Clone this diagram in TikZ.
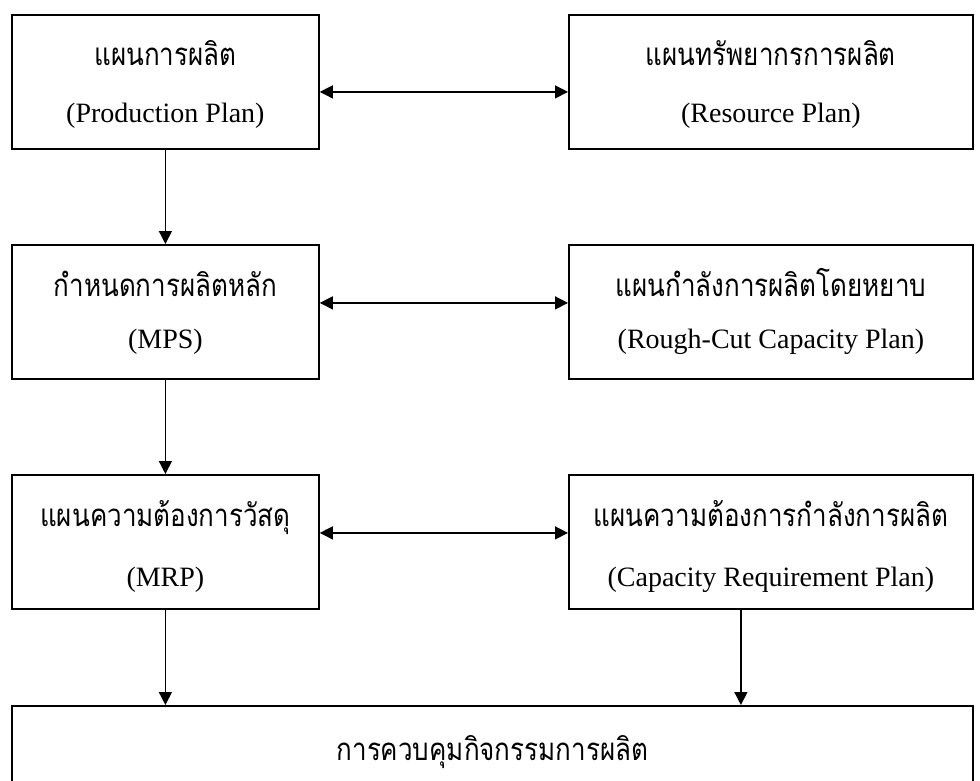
\documentclass[tikz,border=0pt]{standalone}
\usepackage{fontspec}
\setmainfont{Liberation Serif}
\newfontfamily\thaifont[Script=Thai]{Loma}
\usetikzlibrary{arrows.meta}
\newcommand{\thtext}[1]{\scalebox{1}[1.2]{#1}}
\begin{document}
\begin{tikzpicture}[x=1pt,y=-1pt,
  box/.style={draw, line width=1.8pt, minimum width=#1, minimum height=134pt, inner sep=0pt, anchor=north west},
  th/.style={font=\thaifont\fontsize{26}{30}\selectfont, inner sep=0pt, anchor=base},
  en/.style={font=\fontsize{28}{32}\selectfont, inner sep=0pt, anchor=base},
  conn/.style={line width=1.4pt, -{Triangle[length=13pt,width=13pt]}},
  dconn/.style={line width=1.4pt, {Triangle[length=13pt,width=13pt]}-{Triangle[length=13pt,width=13pt]}}
]
\useasboundingbox (0,0) rectangle (980,780);
\clip (0,0) rectangle (980,780);
\fill[white] (0,0) rectangle (980,780);

% row 1
\node[box=307pt] (pp) at (11,14) {};
\node[box=404pt] (rp) at (568,14) {};
\node[th] (ppth) at (pp.north |- 0,65) {\thtext{แผนการผลิต}};
\node[en] (ppen) at (pp.north |- 0,122) {(Production Plan)};
\node[th] (rpth) at (rp.north |- 0,65) {\thtext{แผนทรัพยากรการผลิต}};
\node[en] (rpen) at (rp.north |- 0,122) {(Resource Plan)};

% row 2
\node[box=307pt] (mps) at (11,244) {};
\node[box=404pt] (rccp) at (568,244) {};
\node[th] (mpsth) at (mps.north |- 0,296) {\thtext{กำหนดการผลิตหลัก}};
\node[en] (mpsen) at (mps.north |- 0,348) {(MPS)};
\node[th] (rccpth) at (rccp.north |- 0,296) {\thtext{แผนกำลังการผลิตโดยหยาบ}};
\node[en] (rccpen) at (rccp.north |- 0,348) {(Rough-Cut Capacity Plan)};

% row 3
\node[box=307pt] (mrp) at (11,474) {};
\node[box=404pt] (crp) at (568,474) {};
\node[th] (mrpth) at (mrp.north |- 0,526) {\thtext{แผนความต้องการวัสดุ}};
\node[en] (mrpen) at (mrp.north |- 0,586) {(MRP)};
\node[th] (crpth) at (crp.north |- 0,526) {\thtext{แผนความต้องการกำลังการผลิต}};
\node[en] (crpen) at (crp.north |- 0,586) {(Capacity Requirement Plan)};

% bottom
\node[draw, line width=1.8pt, anchor=north west, minimum width=961pt, minimum height=120pt, inner sep=0pt] (ctrl) at (11,705) {};
\node[th] (ctrlth) at (ctrl.north |- 0,760) {\thtext{การควบคุมกิจกรรมการผลิต}};

% connectors
\draw[dconn] ([yshift=-10pt]pp.east) -- ([yshift=-10pt]rp.west);
\draw[dconn] ([yshift=9pt]mps.east) -- ([yshift=9pt]rccp.west);
\draw[dconn] ([yshift=9pt]mrp.east) -- ([yshift=9pt]crp.west);
\draw[conn] (pp.south) -- (mps.north);
\draw[conn] (mps.south) -- (mrp.north);
\draw[conn] (mrp.south) -- (mrp.south |- ctrl.north);
\draw[conn] ([xshift=-30pt]crp.south) -- ([xshift=-30pt]crp.south |- ctrl.north);
\end{tikzpicture}
\end{document}
